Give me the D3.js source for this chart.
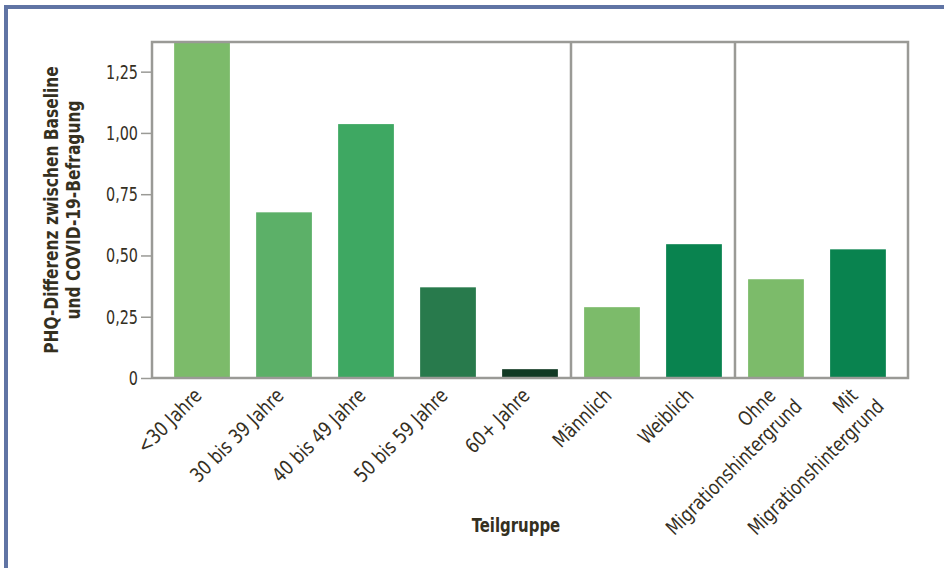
<!DOCTYPE html>
<html><head><meta charset="utf-8">
<script src="https://cdn.jsdelivr.net/npm/d3@7"></script>
<style>
body{margin:0;background:#fff;}
svg text{font-family:"DejaVu Sans Condensed","Liberation Sans Narrow",sans-serif;fill:#35301f;}
</style></head>
<body><svg id="c" width="944" height="568"></svg>
<script>
const categories = ["<30 Jahre","30 bis 39 Jahre","40 bis 49 Jahre","50 bis 59 Jahre","60+ Jahre","Männlich","Weiblich","Ohne\nMigrationshintergrund","Mit\nMigrationshintergrund"];
const values = [1.40, 0.676, 1.036, 0.370, 0.036, 0.289, 0.546, 0.403, 0.525];
const colors = ["#7cbb6a","#5cb068","#3ea862","#287a4c","#113a24","#7cbb6a","#09834f","#7cbb6a","#09834f"];
const yTicks = [0, 0.25, 0.5, 0.75, 1.0, 1.25];
const groupBreaks = [5, 7];
const yTitle = ["PHQ-Differenz zwischen Baseline","und COVID-19-Befragung"];
const xTitle = "Teilgruppe";

const svg = d3.select("#c");
const L=152, R=908, T=42, B=378;
// frame
svg.append("rect").attr("x",4).attr("y",5).attr("width",940).attr("height",4).attr("fill","#6074a4");
svg.append("rect").attr("x",4).attr("y",5).attr("width",4).attr("height",563).attr("fill","#6074a4");

const x = d3.scaleBand().domain(categories).range([L,R]).paddingInner(0.32).paddingOuter(0.27);
const y = d3.scaleLinear().domain([0,1.371]).range([B,T]);

const g = svg.append("g");
g.append("defs").append("clipPath").attr("id","cp").append("rect").attr("x",L).attr("y",T).attr("width",R-L).attr("height",B-T);
g.append("g").attr("clip-path","url(#cp)").selectAll("rect").data(categories).join("rect")
  .attr("x",d=>x(d)).attr("width",x.bandwidth())
  .attr("y",(d,i)=>y(values[i])).attr("height",(d,i)=>B-y(values[i]))
  .attr("fill",(d,i)=>colors[i]);

// dividers
groupBreaks.forEach(b=>{
  const xv = (x(categories[b-1])+x.bandwidth()+x(categories[b]))/2;
  g.append("line").attr("x1",xv).attr("x2",xv).attr("y1",T).attr("y2",B).attr("stroke","#9a9a96").attr("stroke-width",2.5);
});
// border
g.append("rect").attr("x",L).attr("y",T).attr("width",R-L).attr("height",B-T).attr("fill","none").attr("stroke","#9a9a96").attr("stroke-width",2.5);

// y axis
const ya = g.append("g").attr("transform",`translate(${L-1},0)`).call(d3.axisLeft(y).tickValues(yTicks).tickSize(10).tickPadding(3)
  .tickFormat(d=> d===0 ? "0" : d3.format(".2f")(d).replace(".",",")));
ya.select(".domain").remove();
ya.selectAll("line").attr("stroke","#9a9a96").attr("stroke-width",1.5);
ya.selectAll("text").style("font-size","20px").attr("fill","#35301f").attr("x",-13/0.8).attr("transform","scale(0.8,1)");

// x labels
const xl = g.append("g").selectAll("text").data(categories).join("text")
  .attr("transform",d=>`translate(${x(d)+x.bandwidth()/2-4},${B+14}) rotate(-45) scale(0.91,1)`)
  .attr("text-anchor","end").style("font-size","20px");
xl.each(function(d){
  const lines = d.split("\n");
  const t = d3.select(this);
  lines.forEach((ln,i)=>{
    t.append("tspan").attr("x",i*12).attr("y",0).attr("dy",(i*1.3+0.35)+"em").text(ln);
  });
});

// titles
const yt = svg.append("text").attr("transform",`translate(58,210) rotate(-90) scale(0.86,1)`).attr("text-anchor","middle")
  .style("font-size","20px").style("font-weight","bold");
yTitle.forEach((ln,i)=>yt.append("tspan").attr("x",0).attr("dy",i?"1.1em":0).text(ln));
svg.append("text").attr("transform","translate(516,532) scale(0.83,1)").attr("text-anchor","middle").style("font-size","20px").style("font-weight","bold").text(xTitle);
</script></body></html>
